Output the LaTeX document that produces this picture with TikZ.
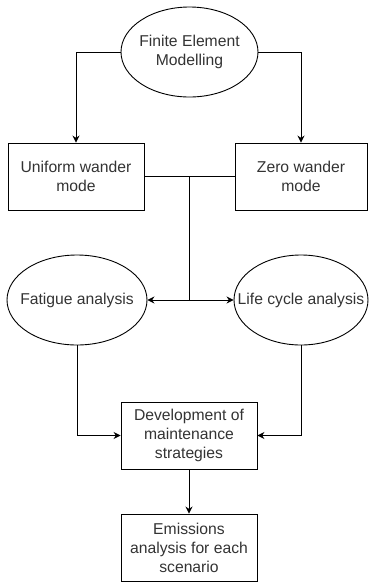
\documentclass[tikz,border=0pt]{standalone}
\usepackage{fontspec}
\setmainfont{Liberation Sans}
\usetikzlibrary{shapes.geometric,arrows.meta}
\tikzset{
	stepbox/.style={draw, minimum width=136pt, minimum height=67pt, inner sep=0pt, align=center},
	oval/.style={draw, ellipse, minimum width=138pt, minimum height=90pt, inner sep=0pt},
	arr/.style={-{Stealth[length=7pt, width=7pt]}},
}
\begin{document}
	\begin{tikzpicture}[x=1pt, y=-1pt, line width=0.9pt,
			font=\fontsize{15.7}{19}\selectfont, text=black!80]
		\useasboundingbox (0,0) rectangle (368,582);
		\node[oval, minimum width=137pt, label={[align=center]center:Finite Element\\Modelling}] (fem) at (189.5,52) {};
		\node[stepbox] (uniform) at (76,176.5) {Uniform wander\\mode};
		\node[stepbox, minimum width=132pt] (zero) at (301,176.5) {Zero wander\\mode};
		\node[oval, minimum width=140pt, label={center:Fatigue analysis}] (fatigue) at (77,300) {};
		\node[oval, minimum width=134pt, label={center:Life cycle analysis}] (lca) at (301,300) {};
		\node[stepbox] (dev) at (189,435.5) {Development of\\maintenance\\strategies};
		\node[stepbox] (emis) at (189,547.5) {Emissions\\analysis for each\\scenario};
		\coordinate (join) at (189,176.5);
		\coordinate (split) at (189,300);
		\draw[arr] (fem.west) -| (uniform.north);
		\draw[arr] (fem.east) -| (zero.north);
		\draw (uniform.east) -- (zero.west);
		\draw (join) -- (split);
		\draw[arr] (split) -- (fatigue.east);
		\draw[arr] (split) -- (lca.west);
		\draw[arr] (fatigue.south) |- (dev.west);
		\draw[arr] (lca.south) |- (dev.east);
		\draw[arr] (dev.south) -- (emis.north);
	\end{tikzpicture}
\end{document}
